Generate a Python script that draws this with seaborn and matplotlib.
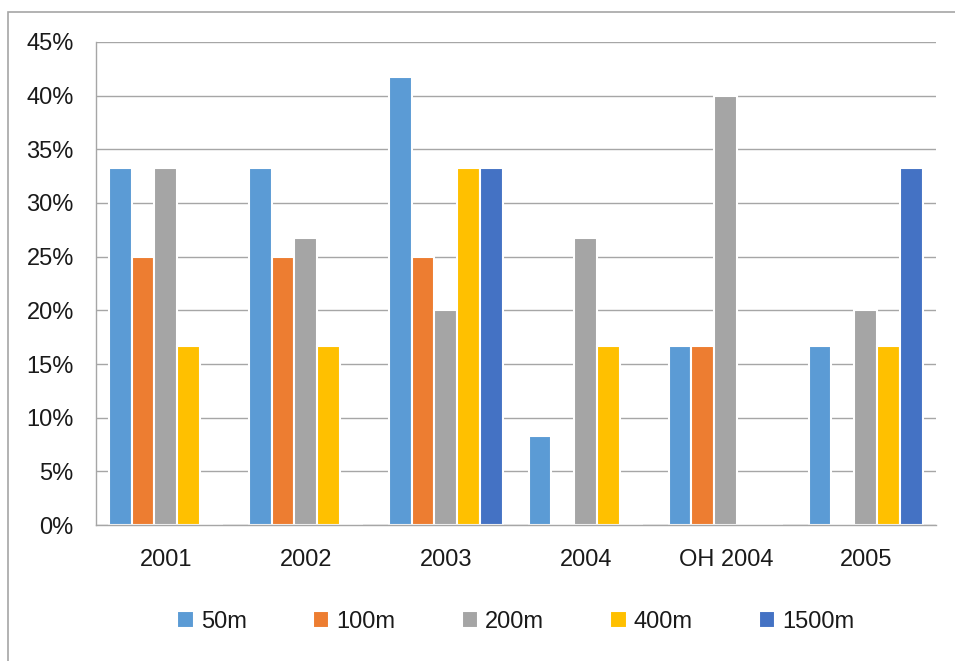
import matplotlib
matplotlib.use("Agg")
import matplotlib.pyplot as plt
from matplotlib.patches import Rectangle
from matplotlib.ticker import PercentFormatter, MultipleLocator, FixedLocator
import numpy as np
import pandas as pd
import seaborn as sns

# Chart data (share of results per distance, in percent)
years = ["2001", "2002", "2003", "2004", "OH 2004", "2005"]
distances = ["50m", "100m", "200m", "400m", "1500m"]
pct_50m = [33.3, 33.3, 41.7, 8.3, 16.7, 16.7]
pct_100m = [25.0, 25.0, 25.0, 0.0, 16.7, 0.0]
pct_200m = [33.3, 26.7, 20.0, 26.7, 40.0, 20.0]
pct_400m = [16.7, 16.7, 33.3, 16.7, 0.0, 16.7]
pct_1500m = [0.0, 0.0, 33.3, 0.0, 0.0, 33.3]

COLORS = ["#5B9BD5", "#ED7D31", "#A5A5A5", "#FFC000", "#4472C4"]

df = pd.DataFrame({"year": years, "50m": pct_50m, "100m": pct_100m,
                   "200m": pct_200m, "400m": pct_400m, "1500m": pct_1500m})
long = df.melt(id_vars="year", var_name="distance", value_name="pct")

sns.set_style("white")
plt.rcParams["font.family"] = ["Liberation Sans", "DejaVu Sans"]

fig = plt.figure(figsize=(9.55, 6.61), dpi=100)
ax = fig.add_axes([0.1005, 0.2057, 0.8795, 0.7308])

sns.barplot(data=long, x="year", y="pct", hue="distance", order=years,
            hue_order=distances, palette=COLORS, width=0.82, saturation=1,
            edgecolor="white", linewidth=1.5, ax=ax)

ax.set_ylim(0, 45)
ax.set_xlim(-0.5, len(years) - 0.5)
ax.yaxis.set_major_locator(MultipleLocator(5))
ax.yaxis.set_major_formatter(PercentFormatter(decimals=0))
ax.grid(axis="y", color="#a6a6a6", linewidth=1)
ax.set_axisbelow(True)

for side in ["top", "right"]:
    ax.spines[side].set_visible(False)
for side in ["left", "bottom"]:
    ax.spines[side].set_color("#a6a6a6")
    ax.spines[side].set_linewidth(1)

ax.tick_params(axis="y", length=6, color="#a6a6a6", labelsize=17, pad=10,
               labelcolor="#1a1a1a")
ax.tick_params(axis="x", which="major", length=0, labelsize=17, pad=17,
               labelcolor="#1a1a1a")
ax.xaxis.set_minor_locator(FixedLocator(np.arange(-0.5, len(years), 1)))
ax.tick_params(axis="x", which="minor", length=6, color="#a6a6a6")

ax.set_xlabel("")
ax.set_ylabel("")

ax.legend(loc="center", bbox_to_anchor=(0.5, -0.2), ncol=5, frameon=False,
          fontsize=17, handlelength=0.7, handleheight=0.7, handletextpad=0.3,
          columnspacing=2.8, labelcolor="#1a1a1a")

fig.patches.append(Rectangle((8 / 955, -0.1), 1.2, 1.1 - 12 / 661,
                             transform=fig.transFigure, fill=False,
                             edgecolor="#a6a6a6", linewidth=1.2))

fig.savefig("out.png", dpi=100)
